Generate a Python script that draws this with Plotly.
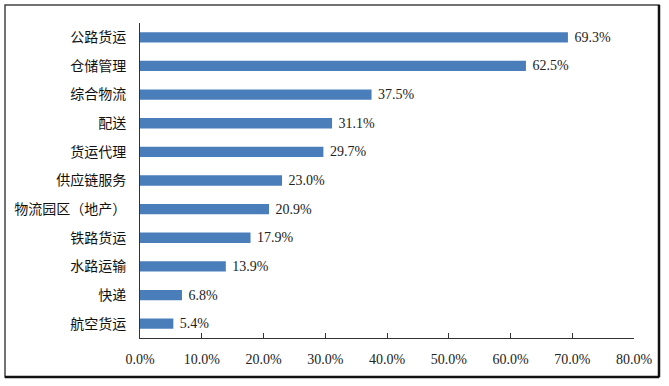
import plotly.graph_objects as go

categories = ["公路货运", "仓储管理", "综合物流", "配送", "货运代理", "供应链服务",
              "物流园区（地产）", "铁路货运", "水路运输", "快递", "航空货运"]
values = [69.3, 62.5, 37.5, 31.1, 29.7, 23.0, 20.9, 17.9, 13.9, 6.8, 5.4]
tick_vals = [0, 10, 20, 30, 40, 50, 60, 70, 80]

fig = go.Figure(go.Bar(
    y=categories, x=values, orientation="h",
    marker=dict(color="#4A7EBB", line=dict(width=0)),
    width=0.36,
    text=[f"\u00a0{v:.1f}%" for v in values], textposition="outside",
    constraintext="none",
    textfont=dict(family="Liberation Serif", size=14, color="#222222"),
    cliponaxis=False,
))

X0, X1 = (5 - 140) / 494, (659 - 140) / 494
Y0, Y1 = (338 - 377) / 315, (338 - 5) / 315

fig.update_layout(
    width=669, height=386,
    margin=dict(l=140, r=35, t=23, b=48, autoexpand=False),
    paper_bgcolor="white", plot_bgcolor="white",
    showlegend=False,
    xaxis=dict(range=[0, 80], tickvals=tick_vals, ticktext=[f"{v:.1f}%" for v in tick_vals],
               showgrid=False, zeroline=False, showline=True, linecolor="#333333", linewidth=1,
               ticks="inside", ticklen=5, tickcolor="#333333", automargin=False,
               ticklabelstandoff=8,
               tickfont=dict(family="Liberation Serif", size=14, color="#222222")),
    yaxis=dict(autorange="reversed", showgrid=False, zeroline=False, showline=True,
               linecolor="#333333", linewidth=1, ticks="", ticklabelstandoff=10, automargin=False,
               tickfont=dict(family="Noto Sans CJK SC", size=14, color="#111111")),
    shapes=[
        dict(type="rect", xref="paper", yref="paper", x0=X0, x1=X1, y0=Y0, y1=Y1,
             line=dict(color="#444444", width=1.5)),
        dict(type="line", xref="paper", yref="paper", x0=X1, x1=X1, y0=Y0, y1=Y1,
             line=dict(color="#111111", width=2.5)),
        dict(type="line", xref="paper", yref="paper", x0=X0, x1=X1, y0=Y0, y1=Y0,
             line=dict(color="#111111", width=2.5)),
    ],
)

fig.write_html("out.html", config={"displayModeBar": False},
               post_script="document.body.style.margin='0';document.body.style.overflow='hidden';")
